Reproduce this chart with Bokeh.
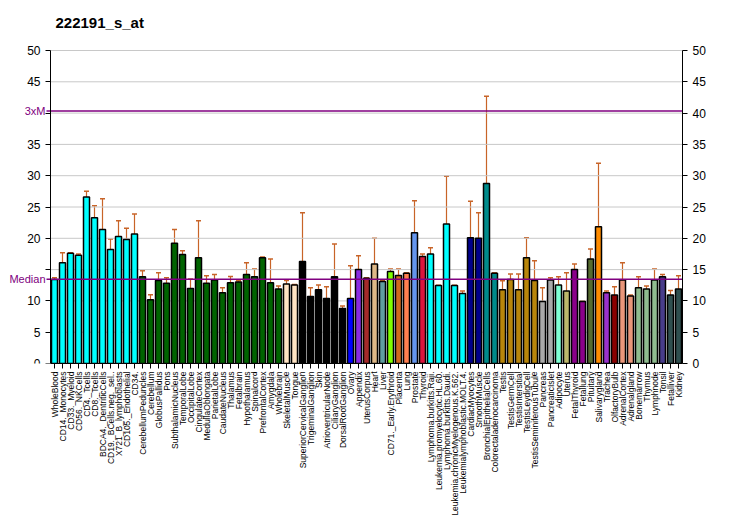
from bokeh.plotting import figure
from bokeh.models import (ColumnDataSource, Range1d, LinearAxis, FixedTicker,
                          Label, Whisker, TeeHead)
from bokeh.embed import file_html
from bokeh.resources import INLINE

labels = ["WholeBlood", "CD14._Monocytes", "CD33._Myeloid", "CD56._NKCells", "CD4._Tcells",
          "CD8._Tcells", "BDCA4._DentriticCells", "CD19._BCells.neg._sel..", "X721_B_lymphoblasts",
          "CD105._Endothelial", "CD34.", "CerebellumPeduncles", "Cerebellum", "GlobusPallidus", "Pons",
          "SubthalamicNucleus", "TemporalLobe", "OccipitalLobe", "CingulateCortex", "MedullaOblongata",
          "ParietalLobe", "CaudateNucleus", "Thalamus", "Fetalbrain", "Hypothalamus", "Spinalcord",
          "PrefrontalCortex", "Amygdala", "Wholebrain", "SkeletalMuscle", "Tongue",
          "SuperiorCervicalGanglion", "TrigeminalGanglion", "Skin", "AtrioventricularNode",
          "CiliaryGanglion", "DorsalRootGanglion", "Ovary", "Appendix", "UterusCorpus", "Heart", "Liver",
          "CD71._Early.Erythroid", "Placenta", "Lung", "Prostate", "Thyroid", "Lymphoma.burkitts.Raji.",
          "Leukemia.promyelocytic.HL.60.", "Lymphoma.burkitts.Daudi.", "Leukemia.chronicMyelogenous.K.562.",
          "Leukemialymphoblastic.MOLT.4.", "CardiacMyocytes", "SmoothMuscle", "BronchialEpithelialCells",
          "Colorectaladenocarcinoma", "Testis", "TestisGermCell", "TestisIntersitial", "TestisLeydigCell",
          "TestisSeminiferousTubule", "Pancreas", "PancreaticIslet", "Adipocyte", "Uterus", "FetalThyroid",
          "Fetallung", "Pituitary", "Salivarygland", "Trachea", "OlfactoryBulb", "AdrenalCortex",
          "Adrenalgland", "Bonemarrow", "Thymus", "Lymphnode", "Tonsil", "Fetalliver", "Kidney"]

values = [13.4, 16.1, 17.6, 17.3, 26.6, 23.3, 21.4, 18.2, 20.3, 19.8, 20.7,
          13.85, 10.2, 13.25, 12.8, 19.2, 17.4, 12.0, 16.9, 12.8,
          13.35, 11.3, 12.9, 13.0, 14.2, 13.85, 16.9, 12.9, 11.9,
          12.7, 12.55, 16.3, 10.7, 11.8, 10.4, 13.85, 8.8, 10.4, 15.0, 13.6,
          15.9, 13.1, 14.7, 14.05, 14.4, 20.9, 17.1, 17.5, 12.45, 22.3,
          12.45, 11.2, 20.1, 20.0, 28.75, 14.4, 11.8, 13.4, 11.8, 16.9,
          13.25, 9.9, 13.35, 12.55, 11.6, 15.0, 9.9, 16.7, 21.85, 11.3,
          10.95, 13.35, 10.8, 12.1, 11.9, 13.35, 13.85, 10.95, 11.9]

err_top = [13.7, 17.7, 17.7, 17.5, 27.5, 25.2, 26.3, 19.9, 22.8, 21.6, 23.9,
           14.8, 11.0, 14.5, 13.7, 21.4, 18.0, 13.5, 22.8, 14.0,
           14.2, 12.1, 13.9, 13.2, 16.1, 15.1, 17.0, 16.7, 12.4,
           13.25, 12.6, 24.1, 12.1, 12.55, 12.25, 19.1, 9.2, 15.6, 17.2, 13.7,
           20.0, 13.3, 15.1, 15.1, 14.5, 26.0, 17.5, 18.5, 12.5, 29.9,
           12.5, 11.6, 25.9, 24.1, 42.7, 14.5, 13.2, 14.3, 14.3, 20.1,
           16.4, 12.1, 13.7, 13.85, 14.5, 15.9, 10.0, 18.3, 32.0, 11.6,
           12.25, 16.1, 10.95, 13.85, 12.4, 15.1, 14.2, 11.65, 14.0]

colors = (["#00FFFF"] * 11 + ["#006400"] * 18 + ["#FFE4C4"] * 2 + ["#000000"] * 6 +
          ["#0000FF", "#8A2BE2", "#A52A2A", "#DEB887", "#5F9EA0", "#7FFF00", "#D2691E",
           "#FF7F50", "#6495ED", "#DC143C"] + ["#00FFFF"] * 5 + ["#00008B"] * 2 +
          ["#008B8B"] * 2 + ["#B8860B"] * 5 + ["#A9A9A9"] * 2 +
          ["#7FFFD4", "#BDB76B", "#8B008B", "#8B008B", "#556B2F", "#FF8C00", "#9932CC",
           "#8B0000", "#E9967A", "#E9967A", "#8FBC8F", "#8FBC8F", "#8FBC8F", "#483D8B",
           "#2F4F4F", "#2F4F4F"])

median_value = 13.45
title_text = "222191_s_at"
yticks = [0, 5, 10, 15, 20, 25, 30, 35, 40, 45, 50]
left_hidden = [15, 40]   # labels hidden on the left, where Median / 3xM sit

n = len(labels)
xs = [i + 0.5 for i in range(n)]
src = ColumnDataSource(dict(x=xs, top=values, err=err_top, color=colors))

# The frame extends 50px left of the first bar and 50px above the top of the
# axes so that axis labels, "Median"/"3xM" and the title are drawn inside it.
px_per_unit = 313 / 50.0
y_top = 50 + 50 / px_per_unit
p = figure(x_range=Range1d(-6.25, n), y_range=Range1d(0, y_top),
           frame_width=682, frame_height=363, output_backend="svg", toolbar_location=None,
           min_border_left=0, min_border_right=42, min_border_top=0, min_border_bottom=10)
p.outline_line_color = None
p.xgrid.grid_line_color = None
p.ygrid.grid_line_color = None

p.add_layout(Label(x=0, y=50 + 28 / px_per_unit, x_offset=5, text=title_text, text_align="left",
                   text_baseline="middle", text_font="Liberation Sans", text_font_size="15px",
                   text_font_style="bold", text_color="black"))

# horizontal grid lines, from the left axis to the right axis
p.segment(x0=[0] * len(yticks), x1=[n] * len(yticks), y0=yticks, y1=yticks,
          line_color="#C8C8C8", line_width=1)

p.vbar(x="x", top="top", width=0.75, bottom=0, source=src, fill_color="color",
       line_color="black", line_width=1.5)

p.add_layout(Whisker(source=src, base="x", upper="err", lower="top", line_color="#C86428",
                     line_width=1.2, upper_head=TeeHead(size=5, line_color="#C86428", line_width=1.5),
                     lower_head=None))

ref_vals = [median_value, 3 * median_value]
p.segment(x0=[-0.5, -0.5], x1=[n, n], y0=ref_vals, y1=ref_vals, line_color="#800080", line_width=1.5)
for yv, txt in zip(ref_vals, ["Median", "3xM"]):
    p.add_layout(Label(x=-0.5, y=yv, text=txt, text_align="right", text_baseline="middle",
                       x_offset=-1, text_color="#800080", text_font="Liberation Sans",
                       text_font_size="11px"))

ya = p.yaxis[0]
ya.fixed_location = 0
ya.ticker = FixedTicker(ticks=yticks)
ya.major_label_overrides = {t: "" for t in left_hidden}
ax_r = LinearAxis(ticker=FixedTicker(ticks=yticks))
p.add_layout(ax_r, "right")
for ax in [ya, ax_r]:
    ax.bounds = (0, 50)
    ax.major_label_text_font = "Liberation Sans"
    ax.major_label_text_font_size = "12px"
    ax.major_label_text_color = "black"
    ax.minor_tick_line_color = None
    ax.major_tick_out = 5
    ax.major_tick_in = 0
    ax.axis_line_color = "black"
    ax.major_tick_line_color = "black"

xa = p.xaxis[0]
xa.ticker = FixedTicker(ticks=xs)
xa.major_label_overrides = {x: lab for x, lab in zip(xs, labels)}
xa.bounds = (0, n)
xa.major_label_orientation = 1.5708
xa.major_label_text_font = "Liberation Sans"
xa.major_label_text_font_size = "8.5px"
xa.major_label_text_color = "black"
xa.minor_tick_line_color = None
xa.major_tick_out = 5
xa.major_tick_in = 0
xa.major_label_standoff = 3
xa.axis_line_color = "black"

open("out.html", "w").write(file_html(p, INLINE))
